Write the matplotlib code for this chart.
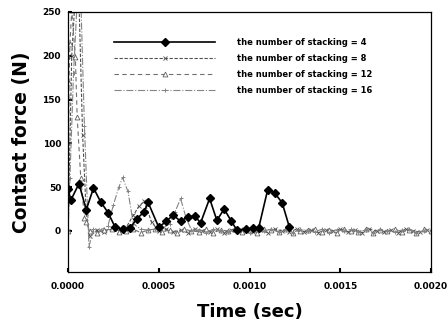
import numpy as np
import matplotlib as mpl
mpl.use('Agg')
import matplotlib.pyplot as plt

mpl.rcParams['font.family'] = 'DejaVu Sans'
mpl.rcParams['font.weight'] = 'bold'

# stacking = 4 (solid, filled diamonds)
t4 = [0.0, 0.000015, 0.00006, 0.0001, 0.00014, 0.00018, 0.00022, 0.00026,
      0.0003, 0.00034, 0.00038, 0.00042, 0.00044, 0.0005, 0.00054, 0.00058,
      0.00062, 0.00066, 0.0007, 0.00073, 0.00078, 0.00082, 0.00086, 0.0009,
      0.00093, 0.00098, 0.00102, 0.00105, 0.0011, 0.00114, 0.00118, 0.00122]
f4 = [48, 35, 54, 24, 49, 33, 21, 4, 2, 3, 14, 22, 33, 4, 11, 18,
      11, 16, 17, 9, 37, 12, 25, 11, 1, 2, 3, 3, 47, 43, 32, 4]

# stacking = 8 (dashed)
t8_head = [0.0, 0.00002, 0.00004, 0.00006, 0.00008, 0.0001, 0.00012,
           0.00016, 0.0002, 0.00024, 0.00028, 0.00032, 0.00036, 0.00039,
           0.00042, 0.00046]
f8_head = [0, 200, 270, 262, 110, 20, -6, 1, -1, 2, 0, 4, 18, 28, 34, 10]
f8_tail = [0, 2, -1, 1, -2, 2, 0, -1, 2, -2, 1, 0, 2, -1, 1, -2, 2, 0, -1,
           2, -1, 1, -2, 1, 0, 2, -1, 1, -2, 2, 0, -1, 1, -2, 2, 0, -1, 1]

# stacking = 12 (dashed, open triangles)
t12_head = [0.0, 0.000005, 0.00001, 0.00002, 0.00004, 0.00005, 0.00007,
            0.00009, 0.0001, 0.00012]
f12_head = [0, 169, 213, 252, 198, 130, 60, 15, 10, 0]
f12_tail = [-2, 1, 2, -1, 0, 2, -2, 1, 2, -1, 1, -2, 2, 0, -1, 2, -2, 1,
            0, 2, -1, 1, -2, 2, 1, -1, 2, -2, 0, 1, 2, -1, 1, -2, 2, 0,
            -1, 2, -2, 1, 0, 2, -1, 1, -2, 2, 0]

# stacking = 16 (dash-dot)
t16_head = [0.0, 0.00001, 0.00003, 0.00005, 0.00007, 0.00009, 0.000115,
            0.00014, 0.00018, 0.00022, 0.00025, 0.00028, 0.0003, 0.00033,
            0.00036, 0.0004, 0.00044, 0.00048, 0.00052, 0.00056, 0.00059,
            0.00062, 0.00065, 0.00068]
f16_head = [0, 60, 180, 262, 265, 120, -18, 2, 1, 6, 30, 50, 61, 45,
            8, 2, 1, 2, 3, 8, 22, 37, 15, 1]
f16_tail = [1, -2, 2, 0, -1, 1, 2, -2, 1, 0, 2, -1, 1, -2, 2, 0, -1, 2,
            -2, 1, 0, 2, -1, 1, -2, 2, 0, -1, 1, 2, -2, 0, 1]

labels = ['the number of stacking = 4', 'the number of stacking = 8',
          'the number of stacking = 12', 'the number of stacking = 16']

# baseline samples every 40 us after the transient
t8 = t8_head + list(0.0005 + 0.00004 * np.arange(len(f8_tail)))
f8 = f8_head + f8_tail
t12 = t12_head + list(0.00016 + 0.00004 * np.arange(len(f12_tail)))
f12 = f12_head + f12_tail
t16 = t16_head + list(0.00072 + 0.00004 * np.arange(len(f16_tail)))
f16 = f16_head + f16_tail

fig = plt.figure(figsize=(4.48, 3.31), dpi=100)
ax = fig.add_axes([0.152, 0.178, 0.810, 0.786])

ax.plot(t4, f4, '-', color='black', lw=1.2, marker='D', ms=3.8,
        mfc='black', mec='black', label=labels[0], zorder=5)
ax.plot(t8, f8, '--', color='#505050', lw=0.8, dashes=(3, 1.5),
        marker='x', ms=2.5, mew=0.6, label=labels[1])
ax.plot(t12, f12, '--', color='#707070', lw=0.8, dashes=(4, 3),
        marker='^', ms=3.5, mfc='white', mec='#606060', mew=0.6,
        label=labels[2])
ax.plot(t16, f16, '-.', color='#858585', lw=0.8,
        marker='+', ms=3, mew=0.7, label=labels[3])

ax.set_xlim(0, 0.002)
ax.set_ylim(-47, 250)
ax.set_xticks([0, 0.0005, 0.001, 0.0015, 0.002])
ax.set_xticklabels(['%.4f' % v for v in [0, 0.0005, 0.001, 0.0015, 0.002]])
ax.set_yticks([0, 50, 100, 150, 200, 250])
ax.tick_params(direction='in', length=3, width=1.5, labelsize=6.5, pad=5)
ax.tick_params(axis='x', pad=7)
for lab in ax.get_xticklabels() + ax.get_yticklabels():
    lab.set_fontweight('bold')
for sp in ax.spines.values():
    sp.set_linewidth(0.9)

leg = ax.legend(loc='upper left', bbox_to_anchor=(0.127, 0.9),
                frameon=False, fontsize=6, handlelength=12.1,
                handletextpad=2.6, labelspacing=0.85, borderpad=0,
                borderaxespad=0, numpoints=1)
for txt in leg.get_texts():
    txt.set_fontweight('bold')

fig.text(250 / 448, 1 - 312 / 331, 'Time (sec)', ha='center', va='center',
         fontsize=13, fontweight='bold')
fig.text(21 / 448, 0.571, 'Contact force (N)', ha='center', va='center',
         rotation=90, fontsize=13.5, fontweight='bold')

fig.savefig('out.png', dpi=100)
